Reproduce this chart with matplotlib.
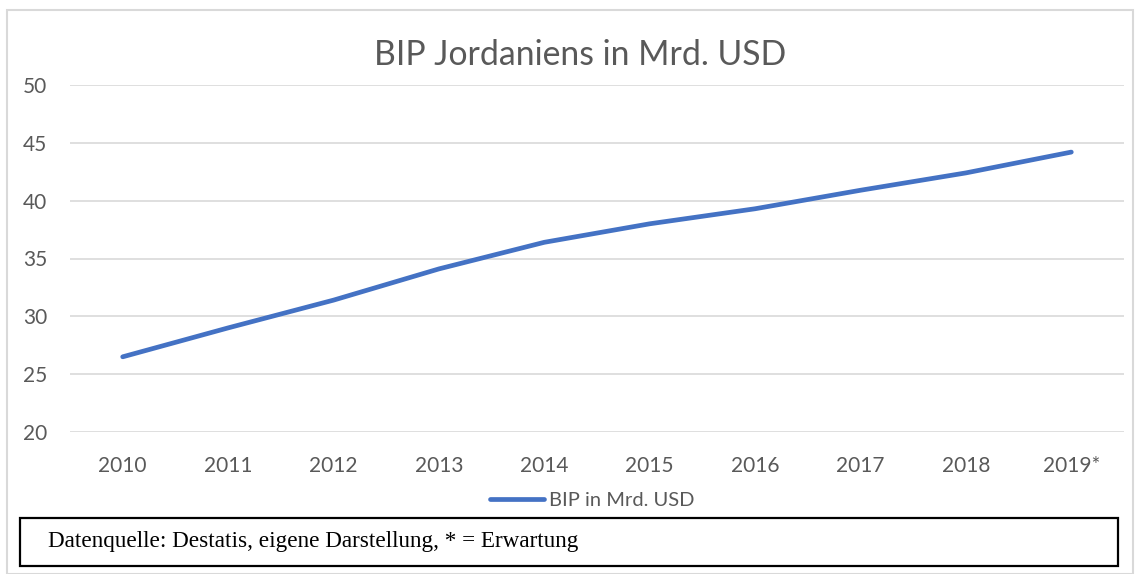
"""
BIP Jordaniens in Mrd. USD, 2010-2019
"""

import matplotlib as mpl
mpl.use("Agg")
import matplotlib.pyplot as plt
from matplotlib.patches import Rectangle

years = ["2010", "2011", "2012", "2013", "2014", "2015", "2016", "2017", "2018", "2019*"]
gdp = [26.5, 29.0, 31.4, 34.1, 36.4, 38.0, 39.3, 40.9, 42.4, 44.2]
yticks = [20, 25, 30, 35, 40, 45, 50]

W, H = 1141, 574
grey_text = "#595959"
grid_col = "#D9D9D9"
line_col = "#4472C4"

plt.rcParams["font.family"] = ["Lato", "DejaVu Sans"]

fig = plt.figure(figsize=(W/100, H/100), dpi=100)

# outer chart frame
fig.patches.append(Rectangle((7/W, 0), (1133-7)/W, 1 - 10/H, transform=fig.transFigure,
                             fill=False, edgecolor=grid_col, linewidth=1.5))

ax = fig.add_axes([70/W, 1 - 432/H, (1124-70)/W, (432-85)/H])
x = list(range(len(years)))
ax.plot(x, gdp, color=line_col, linewidth=3.4, solid_capstyle="round",
        solid_joinstyle="round", label="BIP in Mrd. USD", zorder=3)

ax.set_xlim(-0.5, len(years) - 0.5)
ax.set_ylim(20, 50)
ax.set_yticks(yticks)
ax.set_xticks(x)
ax.set_xticklabels(years)
ax.grid(axis="y", color=grid_col, linewidth=1.2)
ax.set_axisbelow(True)
for s in ax.spines.values():
    s.set_visible(False)
ax.tick_params(length=0, labelsize=15, colors=grey_text)
ax.tick_params(axis="y", pad=16.5)
ax.tick_params(axis="x", pad=17.5)

fig.text(580/W, 1 - 55/H, "BIP Jordaniens in Mrd. USD", ha="center", va="center",
         fontsize=24.3, color=grey_text)

ax.legend(loc="center", bbox_to_anchor=(592/W, 1 - 500/H), bbox_transform=fig.transFigure,
          frameon=False, fontsize=14.5, handlelength=2.7, handletextpad=0.25,
          labelcolor=grey_text)

# source box
fig.patches.append(Rectangle((20/W, 1 - 566/H), (1118-20)/W, (566-518)/H,
                             transform=fig.transFigure, facecolor="white",
                             edgecolor="black", linewidth=1.6, zorder=5))
fig.text(48/W, 1 - 542/H, "Datenquelle: Destatis, eigene Darstellung, * = Erwartung",
         ha="left", va="center", fontsize=16.7, family="Liberation Serif", color="black", zorder=6)

fig.savefig("out.png", dpi=100)
